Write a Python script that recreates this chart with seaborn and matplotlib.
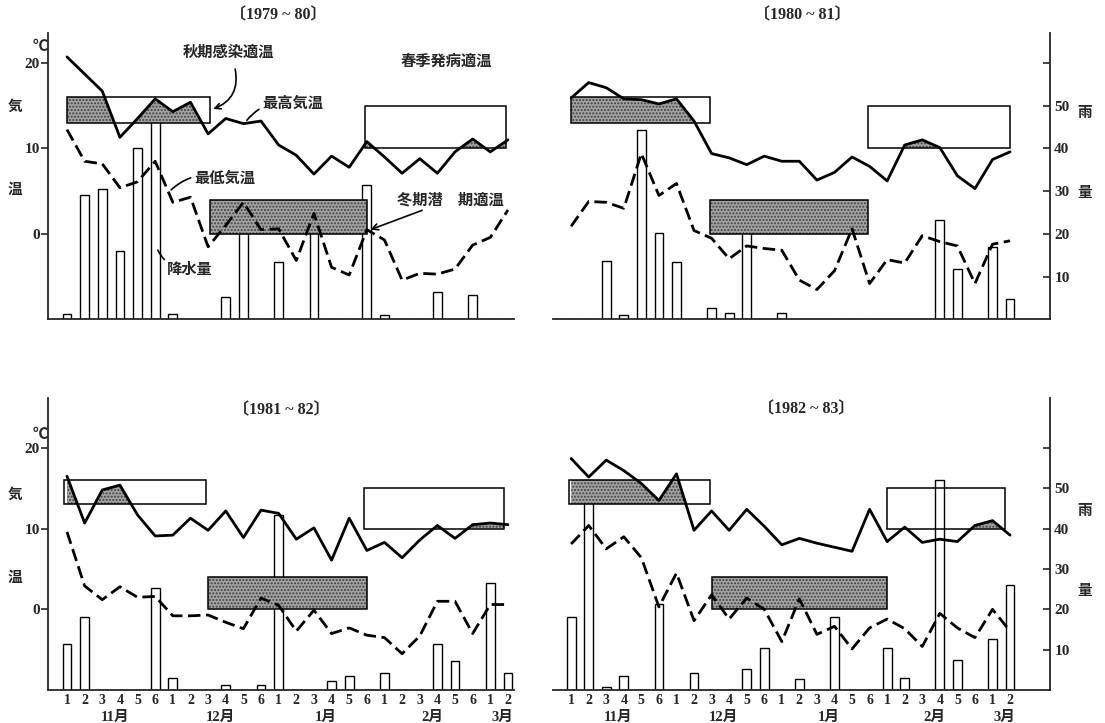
#!/usr/bin/env python3
import numpy as np
import pandas as pd
import seaborn as sns
import matplotlib.pyplot as plt
from matplotlib.patches import Rectangle

# half-decade periods (半旬) from November to early March
periods = list(range(26))
period_labels = ['1', '2', '3', '4', '5', '6'] * 4 + ['1', '2']
months = ['11月', '12月', '1月', '2月', '3月']
month_periods = [6, 6, 6, 6, 2]

seasons = ['1979 ~ 80', '1980 ~ 81', '1981 ~ 82', '1982 ~ 83']

# 最高気温 / 最低気温 (C), 降水量 (mm)
tmax_7980 = [20.7, 18.7, 16.7, 11.3, 13.5, 15.8, 14.3, 15.4, 11.7, 13.5, 12.9, 13.2, 10.4,
             9.2, 7.0, 9.1, 7.8, 10.8, 9.0, 7.1, 8.8, 7.1, 9.6, 11.1, 9.6, 11.0]
tmin_7980 = [12.2, 8.5, 8.2, 5.4, 6.1, 8.5, 3.7, 4.3, -1.5, 1.0, 3.7, 0.5, 0.6,
             -3.1, 2.4, -3.9, -4.8, 0.5, -0.7, -5.4, -4.6, -4.7, -4.1, -1.3, -0.4, 2.8]
rain_7980 = [1.4, 29.1, 30.4, 16.0, 40.1, 47.2, 1.4, 0, 0, 5.3, 27.6, 0, 13.5,
             0, 22.0, 0, 0, 31.5, 1.0, 0, 0, 6.5, 0, 5.8, 0, 0]

tmax_8081 = [15.9, 17.7, 17.1, 15.8, 15.7, 15.2, 15.8, 13.2, 9.4, 8.9, 8.1, 9.1, 8.5,
             8.5, 6.3, 7.2, 9.0, 7.9, 6.2, 10.4, 11.0, 10.1, 6.8, 5.3, 8.7, 9.6]
tmin_8081 = [0.9, 3.8, 3.7, 3.0, 9.4, 4.5, 5.9, 0.4, -0.5, -2.9, -1.4, -1.7, -1.9,
             -5.4, -6.5, -4.3, 0.6, -5.8, -3.0, -3.4, -0.2, -0.9, -1.4, -5.8, -1.2, -0.8]
rain_8081 = [0, 0, 13.6, 1.0, 44.2, 20.2, 13.4, 0, 2.8, 1.6, 22.9, 0, 1.6,
             0, 0, 0, 0, 0, 0, 0, 0, 23.3, 11.9, 0, 17.0, 4.7]

tmax_8182 = [16.5, 10.7, 14.8, 15.4, 11.7, 9.1, 9.2, 11.3, 9.8, 12.2, 8.9, 12.3, 11.9,
             8.7, 10.1, 6.1, 11.3, 7.3, 8.3, 6.4, 8.6, 10.4, 8.8, 10.5, 10.7, 10.5]
tmin_8182 = [9.6, 2.9, 1.2, 2.8, 1.5, 1.6, -0.8, -0.8, -0.7, -1.6, -2.4, 1.4, 0.5,
             -2.7, -0.1, -3.0, -2.3, -3.2, -3.5, -5.5, -3.3, 1.0, 1.0, -3.0, 0.6, 0.6]
rain_8182 = [11.5, 18.0, 0, 0, 0, 25.2, 3.0, 0, 0, 1.2, 0, 1.2, 43.4,
             0, 0, 2.3, 3.4, 0, 4.3, 0, 0, 11.5, 7.1, 0, 26.6, 4.1]

tmax_8283 = [18.7, 16.4, 18.5, 17.2, 15.6, 13.5, 16.8, 9.8, 12.2, 9.8, 12.4, 10.3, 8.0,
             8.8, 8.2, 7.7, 7.2, 12.4, 8.4, 10.2, 8.3, 8.7, 8.4, 10.4, 11.0, 9.2]
tmin_8283 = [8.1, 10.4, 7.5, 9.0, 6.4, 0.3, 4.5, -1.4, 1.8, -1.2, 1.4, 0.0, -4.0,
             1.3, -3.1, -2.1, -4.9, -2.3, -1.2, -2.4, -4.6, -0.5, -2.3, -3.5, 0.0, -2.7]
rain_8283 = [18.0, 52.0, 0.8, 3.6, 0, 21.3, 0, 4.3, 0, 0, 5.1, 10.4, 0,
             2.7, 0, 18.1, 0, 0, 10.5, 3.0, 0, 52.1, 7.4, 0, 12.6, 26.0]

# optimum temperature ranges
autumn_temp = (13, 16)   # 秋期感染適温
winter_temp = (0, 4)     # 冬期潜伏期適温
spring_temp = (10, 15)   # 春季発病適温

# period spans of the three boxes (autumn, winter, spring) in each panel
box_spans = [
    [(0, 8.1), (8.1, 17), (16.9, 24.9)],
    [(0, 7.9), (7.9, 16.9), (16.9, 25)],
    [(-0.15, 7.9), (8, 17), (16.85, 24.8)],
    [(-0.1, 7.9), (8, 18), (18, 24.7)],
]

W, H = 1105, 723
stipple = dict(facecolor='#a4a4a4', edgecolor='#404040', hatch='.....', linewidth=0)
cjk = ['Noto Sans CJK JP']


def px(x, y):
    return x / W, 1 - y / H


def shade_box(ax2, y, span, trange):
    x0, x1 = span
    lo, hi = trange
    box = Rectangle((x0, lo), x1 - x0, hi - lo, fill=False, ec='black', lw=1.1, zorder=4)
    ax2.add_patch(box)
    y = np.asarray(y)
    poly = ax2.fill_between(periods, lo, y, where=y > lo, interpolate=True, zorder=2, **stipple)
    poly.set_clip_path(box)


def draw_panel(ax, df, spans, ytop, left_side, bottom_row, xlim):
    sns.barplot(data=df, x='period', y='rain', ax=ax, color='white', edgecolor='black',
                linewidth=1.0, width=0.5, saturation=1, errorbar=None)
    ax.set_ylim(0, 2 * (ytop + 10))   # rain 0 at -10 C, 20 mm at 0 C
    ax2 = ax.twinx()
    ax2.set_ylim(-10, ytop)

    shade_box(ax2, df['tmax'], spans[0], autumn_temp)
    shade_box(ax2, df['tmax'], spans[2], spring_temp)
    x0, x1 = spans[1]
    ax2.add_patch(Rectangle((x0, winter_temp[0]), x1 - x0, winter_temp[1] - winter_temp[0],
                            zorder=2, **stipple))
    ax2.add_patch(Rectangle((x0, winter_temp[0]), x1 - x0, winter_temp[1] - winter_temp[0],
                            fill=False, ec='black', lw=1.1, zorder=4))

    sns.lineplot(data=df, x='period', y='tmax', ax=ax2, color='black', linewidth=2, zorder=5)
    sns.lineplot(data=df, x='period', y='tmin', ax=ax2, color='black', linewidth=2,
                 linestyle=(0, (4.5, 2)), zorder=5)

    for a in (ax, ax2):
        a.set_xlabel('')
        a.set_ylabel('')
        for s in a.spines.values():
            s.set_visible(False)
            s.set_linewidth(1.3)
    ax.spines['bottom'].set_visible(True)

    if left_side:
        ax2.spines['left'].set_visible(True)
        ax2.yaxis.tick_left()
        ax2.set_yticks([0, 10, 20])
        ax2.tick_params(axis='y', direction='out', length=5, width=1.2, labelsize=11, pad=1)
        ax.set_yticks([])
    else:
        ax.spines['right'].set_visible(True)
        ax2.set_yticks([])
        ax.yaxis.tick_right()
        ax.set_yticks([10, 20, 30, 40, 50, 60], ['10', '20', '30', '40', '50', ''])
        ax.tick_params(axis='y', direction='in', length=5, width=1.2, labelsize=11, pad=3)

    if bottom_row:
        ax.set_xticks(periods, period_labels)
        ax.tick_params(axis='x', length=0, pad=3, labelsize=10)
        start = 0
        for m, n in zip(months, month_periods):
            ax.annotate(m, xy=(start + (n - 1) / 2 + 0.2, 0), xycoords=('data', 'axes fraction'),
                        xytext=(0, -20), textcoords='offset points', ha='center', va='center',
                        fontsize=10.5)
            start += n
    else:
        ax.set_xticks([])
    ax.set_xlim(xlim)
    return ax2


def main():
    sns.set_style('white')
    plt.rcParams['font.family'] = ['Liberation Serif', 'Noto Sans CJK JP']
    plt.rcParams['font.weight'] = 'bold'

    fig = plt.figure(figsize=(W / 100, H / 100), dpi=100)
    rects = [[0.0434, 0.5581, 0.4217, 0.3963], [0.5005, 0.5581, 0.4498, 0.3963],
             [0.0434, 0.0456, 0.4217, 0.4039], [0.5005, 0.0456, 0.4498, 0.4039]]
    data = [(tmax_7980, tmin_7980, rain_7980), (tmax_8081, tmin_8081, rain_8081),
            (tmax_8182, tmin_8182, rain_8182), (tmax_8283, tmin_8283, rain_8283)]

    axes2 = []
    for i, (tmax, tmin, rain) in enumerate(data):
        df = pd.DataFrame({'period': periods, 'tmax': tmax, 'tmin': tmin, 'rain': rain})
        ax = fig.add_axes(rects[i])
        left_side = i % 2 == 0
        bottom_row = i >= 2
        ytop = 26.2 if bottom_row else 23.5
        xlim = (-1.08, 25.34) if left_side else (-1.03, 27.28)
        axes2.append(draw_panel(ax, df, box_spans[i], ytop, left_side, bottom_row, xlim))

    # season titles
    for (x, y), s in zip([(278, 15), (802, 15), (281, 410), (806, 409)], seasons):
        fig.text(*px(x, y), '〔' + s + '〕', ha='center', va='center', fontsize=11.5)

    # axis captions
    for y0 in (0, 388):
        fig.text(*px(40, 46 + y0), '℃', ha='center', va='center', fontsize=11, family=cjk)
        fig.text(*px(15, 107 + y0), '気', ha='center', va='center', fontsize=10.5)
        fig.text(*px(15, 190 + y0), '温', ha='center', va='center', fontsize=10.5)
    for y0 in (0, 398):
        fig.text(*px(1085, 113 + y0), '雨', ha='center', va='center', fontsize=10.5)
        fig.text(*px(1085, 193 + y0), '量', ha='center', va='center', fontsize=10.5)

    # legend-like labels in the first panel
    a = axes2[0]
    kw = dict(ha='center', va='center', fontsize=11)
    a.text(9.13, 21.2, '秋期感染適温', **kw)
    a.text(21.54, 20.1, '春季発病適温', **kw)
    a.annotate('', xy=(8.15, 14.5), xytext=(9.5, 19.6),
               arrowprops=dict(arrowstyle='->', lw=1.2, color='black',
                               connectionstyle='arc3,rad=-0.45'))
    a.annotate('最高気温', xy=(10.2, 13.3), xytext=(12.8, 15.2), **kw,
               arrowprops=dict(arrowstyle='-', lw=1.2, color='black', shrinkA=18, shrinkB=0,
                               connectionstyle='arc3,rad=0.3'))
    a.annotate('最低気温', xy=(5.9, 5.15), xytext=(8.93, 6.43), **kw,
               arrowprops=dict(arrowstyle='-', lw=1.2, color='black', shrinkA=29, shrinkB=0,
                               connectionstyle='arc3,rad=0.3'))
    a.annotate('降水量', xy=(5.15, -1.9), xytext=(6.94, -4.2), **kw,
               arrowprops=dict(arrowstyle='-', lw=1.2, color='black', shrinkA=14, shrinkB=0,
                               connectionstyle='arc3,rad=-0.3'))
    a.annotate('冬期潜　期適温', xy=(17.2, 0.5), xytext=(21.74, 4.0), **kw,
               arrowprops=dict(arrowstyle='->', lw=1.2, color='black', shrinkA=52, shrinkB=0))

    fig.savefig('out.png', dpi=100)


if __name__ == '__main__':
    main()
